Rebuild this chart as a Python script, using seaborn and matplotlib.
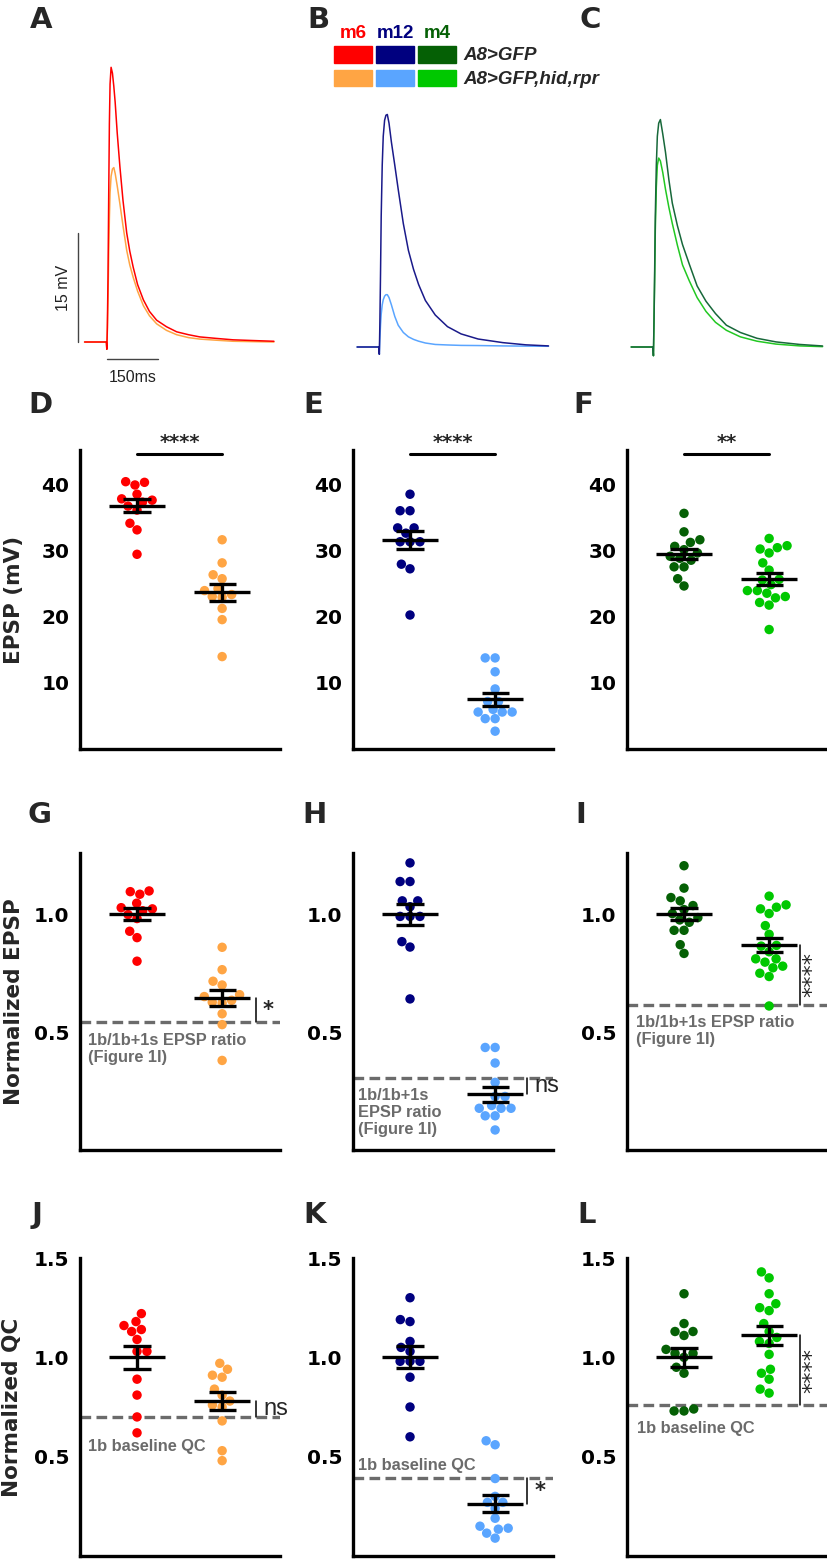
import numpy as np
import pandas as pd
import matplotlib
matplotlib.use("Agg")
import matplotlib.pyplot as plt
import seaborn as sns
from matplotlib.patches import Rectangle
from matplotlib.ticker import FormatStrFormatter

# ---- representative EPSP traces (ms after stimulus, mV) ----
t_A = [-66, -2, -0.5, 1, 3, 5, 7, 9, 12, 16, 20, 24, 30, 38, 47, 58, 67, 77, 90, 107, 125, 146,
       175, 205, 240, 273, 320, 371, 430, 491]
m6_ctrl_trace = [0, 0, -1.0, 2, 9, 20, 30, 35.5, 37.8, 37.0, 35.2, 33.0, 28.8, 24.1, 19.5, 15.0,
                 12.5, 10.3, 7.9, 5.8, 4.2, 3.0, 2.1, 1.4, 1.0, 0.7, 0.5, 0.3, 0.2, 0.1]
m6_abl_trace = [0, 0, -1.0, 1.5, 6, 12, 17, 20.5, 22.8, 23.8, 24.0, 23.2, 21.5, 19.0, 16.0, 12.6,
                10.6, 8.9, 7.0, 5.0, 3.6, 2.5, 1.6, 1.0, 0.6, 0.4, 0.25, 0.1, 0.05, 0.0]

t_B = [-66, -2, -0.5, 1, 3, 5, 8, 11, 15, 19, 23, 28, 35, 45, 55, 70, 85, 100, 115, 135, 164,
       200, 240, 290, 363, 430, 497]
m12_ctrl_trace = [0, 0, -1, 3, 10, 18, 25, 29, 31.2, 31.9, 32.0, 30.8, 28.2, 25.0, 21.7, 17.0,
                  13.3, 10.7, 8.6, 6.4, 4.4, 2.8, 1.8, 1.1, 0.6, 0.3, 0.15]
m12_abl_trace = [0, 0, -1, 1, 3, 4.5, 5.8, 6.5, 7.0, 7.2, 7.2, 6.8, 5.8, 4.2, 3.0, 2.0, 1.4, 1.05,
                 0.8, 0.55, 0.35, 0.28, 0.22, 0.2, 0.15, 0.12, 0.1]

t_C = [-66, -2, -0.5, 1, 3, 5, 8, 11, 15, 20, 27, 35, 45, 55, 70, 85, 105, 128, 154, 182, 214,
       255, 304, 360, 430, 497]
m4_ctrl_trace = [0, 0, -1.2, 3, 10, 18, 25, 29, 30.8, 31.3, 29.3, 26.8, 23.0, 19.8, 16.7, 14.1,
                 11.4, 8.4, 6.3, 4.6, 3.0, 2.0, 1.2, 0.7, 0.35, 0.14]
m4_abl_trace = [0, 0, -1.2, 3, 9, 16, 22, 25, 26.0, 25.6, 24.0, 21.7, 19.2, 17.0, 14.0, 11.3, 9.1,
                6.8, 4.9, 3.4, 2.3, 1.4, 0.8, 0.4, 0.15, 0.05]

# ---- EPSP amplitude (mV), D-F ----
m6_ctrl_epsp = [40.4, 40.5, 40.0, 38.6, 37.4, 37.9, 36.8, 37.7, 36.2, 34.2, 33.2, 29.5]
m6_abl_epsp = [31.7, 28.2, 26.4, 25.8, 24.0, 24.3, 23.4, 23.1, 23.0, 21.3, 19.6, 14.0]
m12_ctrl_epsp = [38.6, 36.1, 36.1, 32.7, 33.5, 33.5, 31.4, 31.4, 31.4, 28.0, 27.3, 20.3]
m12_abl_epsp = [13.8, 13.8, 11.7, 9.1, 7.2, 7.2, 5.6, 5.6, 6.0, 5.6, 4.6, 4.6, 2.7]
m4_ctrl_epsp = [35.7, 32.9, 31.7, 31.3, 30.2, 30.7, 29.2, 29.7, 28.6, 28.9, 27.6, 27.6, 25.8, 24.7]
m4_abl_epsp = [31.9, 30.5, 30.8, 30.3, 29.7, 28.2, 27.1, 25.7, 25.6, 24.0, 24.0, 24.9, 22.9, 23.6,
               23.1, 21.8, 22.2, 18.1]

# ---- normalized EPSP, G-I ----
m6_ctrl_norm = [1.096, 1.099, 1.085, 1.047, 1.015, 1.028, 0.999, 1.023, 0.982, 0.928, 0.901, 0.801]
m6_abl_norm = [0.860, 0.765, 0.716, 0.700, 0.651, 0.659, 0.635, 0.627, 0.624, 0.578, 0.532, 0.380]
m12_ctrl_norm = [1.218, 1.139, 1.139, 1.032, 1.057, 1.057, 0.991, 0.991, 0.991, 0.884, 0.861, 0.641]
m12_abl_norm = [0.435, 0.435, 0.369, 0.287, 0.227, 0.227, 0.177, 0.177, 0.189, 0.177, 0.145, 0.145, 0.085]
m4_ctrl_norm = [1.206, 1.111, 1.071, 1.057, 1.020, 1.037, 0.986, 1.003, 0.966, 0.976, 0.932, 0.932,
                0.871, 0.834]
m4_abl_norm = [1.077, 1.030, 1.040, 1.023, 1.003, 0.952, 0.915, 0.868, 0.865, 0.811, 0.811, 0.841,
               0.773, 0.797, 0.780, 0.736, 0.750, 0.611]

# ---- normalized QC, J-L ----
m6_ctrl_qc = [1.22, 1.16, 1.14, 1.18, 1.13, 1.09, 1.03, 1.03, 0.89, 0.81, 0.70, 0.62]
m6_abl_qc = [0.97, 0.90, 0.91, 0.94, 0.84, 0.81, 0.78, 0.75, 0.76, 0.68, 0.53, 0.48]
m12_ctrl_qc = [1.30, 1.19, 1.18, 1.08, 1.05, 1.03, 0.98, 0.98, 0.98, 0.90, 0.75, 0.60]
m12_abl_qc = [0.58, 0.56, 0.39, 0.30, 0.27, 0.24, 0.27, 0.19, 0.14, 0.15, 0.135, 0.115, 0.09]
m4_ctrl_qc = [1.32, 1.17, 1.13, 1.13, 1.11, 1.04, 1.02, 1.02, 1.00, 0.95, 0.92, 0.73, 0.74, 0.73]
m4_abl_qc = [1.43, 1.40, 1.32, 1.235, 1.25, 1.27, 1.17, 1.13, 1.07, 1.10, 1.08, 1.015, 0.94, 0.92,
             0.89, 0.84, 0.82]

# dashed reference levels (1b ratio / 1b baseline QC)
ratio_ref = [0.544, 0.305, 0.616]
qc_ref = [0.702, 0.394, 0.761]

sig_epsp = ["****", "****", "**"]
sig_norm = ["*", "ns", "****"]
sig_qc = ["ns", "*", "****"]

RED, ORANGE = "#ff0000", "#ffa544"
NAVY, LBLUE = "#00007f", "#5aa5ff"
DGREEN, LGREEN = "#056005", "#00c800"
GREY = "#6b6b6b"

sns.set_style("white")
plt.rcParams["font.family"] = ["DejaVu Sans"]

W, H = 828, 1560
fig = plt.figure(figsize=(W / 100, H / 100), dpi=100)


def rect(l, t, r, b):
    return [l / W, 1 - b / H, (r - l) / W, (b - t) / H]


# ---------- traces ----------
MS_PX = 150 / 51
MV_PX = 15 / 109


def trace_axes(l, r, stim, base):
    ax = fig.add_axes(rect(l, 55, r, 385))
    ax.set_xlim((l - stim) * MS_PX, (r - stim) * MS_PX)
    ax.set_ylim((base - 385) * MV_PX, (base - 55) * MV_PX)
    ax.axis("off")
    return ax


trace_sets = [
    (40, 292, 107, 342, t_A, m6_abl_trace, m6_ctrl_trace, ORANGE, RED),
    (330, 562, 379.5, 347, t_B, m12_abl_trace, m12_ctrl_trace, LBLUE, "#1a1a8a"),
    (606, 828, 653.6, 347, t_C, m4_abl_trace, m4_ctrl_trace, "#22c822", "#17683a"),
]
trace_axs = []
for l, r, stim, base, t, v_abl, v_ctrl, c_abl, c_ctrl in trace_sets:
    ax = trace_axes(l, r, stim, base)
    sns.lineplot(x=t, y=v_abl, color=c_abl, lw=1.1, sort=False, estimator=None, ax=ax)
    sns.lineplot(x=t, y=v_ctrl, color=c_ctrl, lw=1.1, sort=False, estimator=None, ax=ax)
    trace_axs.append(ax)

# scale bars (panel A)
axA = trace_axs[0]
axA.plot([-85, -85], [0, 15], color="#444444", lw=1)
axA.plot([0, 150], [-2.34, -2.34], color="#444444", lw=1)
axA.text(-129, 7.5, "15 mV", rotation=90, ha="center", va="center", fontsize=11.5,
         family="Liberation Sans", color="#222222")
axA.text(75, -3.9, "150ms", ha="center", va="top", fontsize=11.5,
         family="Liberation Sans", color="#222222")

# ---------- dot plots ----------
col_left = [80, 353, 627]
rows = [(450, 749), (853, 1150), (1258, 1556)]


def dot_panel(ax, ctrl, abl, c1, c2):
    df = pd.DataFrame({"grp": ["c"] * len(ctrl) + ["a"] * len(abl),
                       "val": list(ctrl) + list(abl)})
    sns.swarmplot(data=df, x="grp", y="val", hue="grp", palette={"c": c1, "a": c2},
                  size=6.8, legend=False, ax=ax, zorder=2)
    for i, vals in enumerate([ctrl, abl]):
        m = np.mean(vals)
        s = np.std(vals, ddof=1) / np.sqrt(len(vals))
        ax.hlines(m, i - 0.33, i + 0.33, color="k", lw=2.4, zorder=4)
        ax.vlines(i, m - s, m + s, color="k", lw=2.4, zorder=4)
        ax.hlines([m - s, m + s], i - 0.16, i + 0.16, color="k", lw=2.4, zorder=4)
    ax.set_xlim(-0.67, 1.68)
    ax.set_xticks([])
    ax.set_xlabel("")
    ax.set_ylabel("")
    sns.despine(ax=ax)
    for sp in ["left", "bottom"]:
        ax.spines[sp].set_linewidth(2.4)
        ax.spines[sp].set_color("k")
    ax.tick_params(axis="y", length=6, width=2.4, pad=1.5, labelsize=14.5, colors="k")
    ax.patch.set_alpha(0)
    return np.mean(abl)


def bold_ticks(ax):
    for lab in ax.get_yticklabels():
        lab.set_fontweight("bold")


groups = [
    (m6_ctrl_epsp, m6_abl_epsp, m6_ctrl_norm, m6_abl_norm, m6_ctrl_qc, m6_abl_qc, RED, ORANGE),
    (m12_ctrl_epsp, m12_abl_epsp, m12_ctrl_norm, m12_abl_norm, m12_ctrl_qc, m12_abl_qc, NAVY, LBLUE),
    (m4_ctrl_epsp, m4_abl_epsp, m4_ctrl_norm, m4_abl_norm, m4_ctrl_qc, m4_abl_qc, DGREEN, LGREEN),
]

ann_font = dict(family="Liberation Sans", fontweight="bold", color=GREY, fontsize=11.8)
ratio_text = ["1b/1b+1s EPSP ratio\n(Figure 1I)", "1b/1b+1s\nEPSP ratio\n(Figure 1I)",
              "1b/1b+1s EPSP ratio\n(Figure 1I)"]
ratio_text_y = [0.43, 0.158, 0.505]
ratio_text_x = [-0.58, -0.61, -0.565]
qc_text_y = [0.552, 0.456, 0.643]
qc_text_x = [-0.58, -0.61, -0.555]
bar_x = [1.40, 1.38, 1.36]


def side_mark(ax, x, y0, y1, label):
    ax.plot([x, x], [y0, y1], color="k", lw=1.1, clip_on=False, zorder=5)
    yc = (y0 + y1) / 2
    if label == "ns":
        ax.text(x + 0.08, yc, "ns", fontsize=17, ha="left", va="center", clip_on=False,
                family="Liberation Sans")
    elif label == "*":
        ax.text(x + 0.08, yc, "*", fontsize=15, fontweight="bold", ha="left", va="center")
    else:
        ax.text(x + 0.15, yc, label, fontsize=16, rotation=90, ha="center", va="center")


for j, (ce, ae, cn, an, cq, aq, c1, c2) in enumerate(groups):
    l = col_left[j]
    # EPSP row
    ax = fig.add_axes(rect(l, rows[0][0], l + 200, rows[0][1]))
    dot_panel(ax, ce, ae, c1, c2)
    ax.set_ylim(0, 45.3)
    ax.set_yticks([10, 20, 30, 40])
    bold_ticks(ax)
    ax.plot([0, 1], [44.7, 44.7], color="k", lw=2.2, clip_on=False)
    ax.text(0.5, 45.0, sig_epsp[j], ha="center", va="bottom", fontsize=14, fontweight="bold")
    if j == 0:
        ax.set_ylabel("EPSP (mV)", fontsize=15.5, fontweight="bold")
        ax.yaxis.set_label_coords(-0.28, 0.5)

    # normalized EPSP row
    ax = fig.add_axes(rect(l, rows[1][0], l + 200, rows[1][1]))
    m_abl = dot_panel(ax, cn, an, c1, c2)
    ax.set_ylim(0, 1.26)
    ax.set_yticks([0.5, 1.0])
    ax.yaxis.set_major_formatter(FormatStrFormatter("%.1f"))
    bold_ticks(ax)
    ax.axhline(ratio_ref[j], color=GREY, ls=(0, (3.2, 1.6)), lw=2.4, zorder=1)
    ax.text(ratio_text_x[j], ratio_text_y[j], ratio_text[j], ha="left", va="center",
            linespacing=1.15, **ann_font)
    side_mark(ax, bar_x[j], m_abl, ratio_ref[j], sig_norm[j])
    if j == 0:
        ax.set_ylabel("Normalized EPSP", fontsize=15.5, fontweight="bold")
        ax.yaxis.set_label_coords(-0.28, 0.5)

    # normalized QC row
    ax = fig.add_axes(rect(l, rows[2][0], l + 200, rows[2][1]))
    m_abl = dot_panel(ax, cq, aq, c1, c2)
    ax.set_ylim(0, 1.5)
    ax.set_yticks([0.5, 1.0, 1.5])
    ax.yaxis.set_major_formatter(FormatStrFormatter("%.1f"))
    bold_ticks(ax)
    ax.axhline(qc_ref[j], color=GREY, ls=(0, (3.2, 1.6)), lw=2.4, zorder=1)
    ax.text(qc_text_x[j], qc_text_y[j], "1b baseline QC", ha="left", va="center", **ann_font)
    side_mark(ax, bar_x[j], m_abl, qc_ref[j], sig_qc[j])
    if j == 0:
        ax.set_ylabel("Normalized QC", fontsize=15.5, fontweight="bold")
        ax.yaxis.set_label_coords(-0.29, 0.5)

# ---------- overlay: panel letters and legend ----------
ov = fig.add_axes([0, 0, 1, 1])
ov.set_xlim(0, W)
ov.set_ylim(H, 0)
ov.axis("off")

letters = ["A", "B", "C", "D", "E", "F", "G", "H", "I", "J", "K", "L"]
letter_x = [41, 318, 590, 40, 313, 583, 40, 315, 581, 37, 315, 587]
letter_y = [20, 20, 20, 405, 405, 405, 815, 815, 815, 1215, 1215, 1215]
for s, x, y in zip(letters, letter_x, letter_y):
    ov.text(x, y, s, fontsize=21, fontweight="bold", ha="center", va="center")

muscles = ["m6", "m12", "m4"]
ctrl_cols = [RED, NAVY, DGREEN]
abl_cols = [ORANGE, LBLUE, LGREEN]
for k, (mname, cc, ca) in enumerate(zip(muscles, ctrl_cols, abl_cols)):
    x0 = 334 + k * 42
    ov.add_patch(Rectangle((x0, 46), 38, 17, color=cc))
    ov.add_patch(Rectangle((x0, 70), 38, 16, color=ca))
    ov.text(x0 + 19, 34, mname, color=cc, ha="center", va="center", fontsize=13.5,
            fontweight="bold", family="Liberation Sans")
ov.text(463, 55, "A8>GFP", ha="left", va="center", fontsize=13.5, fontweight="bold",
        style="italic", family="Liberation Sans")
ov.text(463, 79, "A8>GFP,hid,rpr", ha="left", va="center", fontsize=13.5, fontweight="bold",
        style="italic", family="Liberation Sans")

fig.savefig("out.png", dpi=100)
